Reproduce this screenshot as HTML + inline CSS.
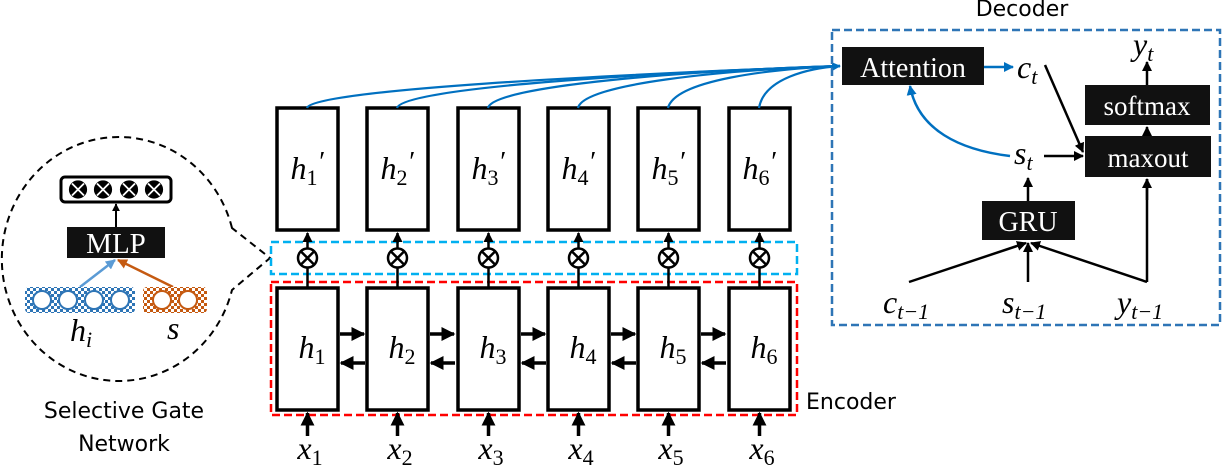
<!DOCTYPE html>
<html><head><meta charset="utf-8"><style>
body{margin:0;background:#fff}
svg{display:block}
.m{font-family:"Liberation Serif",serif;font-style:italic}
.s{font-family:"Liberation Serif",serif;font-style:normal}
.w{font-family:"Liberation Serif",serif;fill:#fff}
.d{font-family:"DejaVu Sans","Liberation Sans",sans-serif}
</style></head><body>
<svg width="1222" height="466" viewBox="0 0 1222 466" xmlns="http://www.w3.org/2000/svg">
<defs>
<marker id="ak" viewBox="0 0 10 10" refX="9" refY="5" markerWidth="4" markerHeight="4" orient="auto"><path d="M0,0L10,5L0,10z" fill="#000"/></marker>
<marker id="ab" viewBox="0 0 10 10" refX="9" refY="5" markerWidth="4" markerHeight="4" orient="auto"><path d="M0,0L10,5L0,10z" fill="#0070c0"/></marker>
<marker id="al" viewBox="0 0 10 10" refX="9" refY="5" markerWidth="4" markerHeight="4" orient="auto"><path d="M0,0L10,5L0,10z" fill="#5b9bd5"/></marker>
<marker id="ao" viewBox="0 0 10 10" refX="9" refY="5" markerWidth="4" markerHeight="4" orient="auto"><path d="M0,0L10,5L0,10z" fill="#c55a11"/></marker>
<pattern id="pb" width="6" height="6" patternUnits="userSpaceOnUse"><rect width="6" height="6" fill="#2e75b6"/><rect width="3" height="3" fill="#fff"/><rect x="3" y="3" width="3" height="3" fill="#fff"/></pattern>
<pattern id="po" width="6" height="6" patternUnits="userSpaceOnUse"><rect width="6" height="6" fill="#c55a11"/><rect width="3" height="3" fill="#fff"/><rect x="3" y="3" width="3" height="3" fill="#fff"/></pattern>
</defs>

<path d="M232,228 A117,122 0 1 0 232,290 L270,258 Z" fill="none" stroke="#000" stroke-width="2" stroke-dasharray="7,5"/>
<rect x="61" y="177" width="110" height="25" rx="4" fill="#fff" stroke="#000" stroke-width="3"/>
<g fill="#000" stroke="#fff" stroke-width="1.8">
<circle cx="78" cy="189.5" r="10"/><path d="M72,183.5L84,195.5M84,183.5L72,195.5"/>
<circle cx="103" cy="189.5" r="10"/><path d="M97,183.5L109,195.5M109,183.5L97,195.5"/>
<circle cx="129" cy="189.5" r="10"/><path d="M123,183.5L135,195.5M135,183.5L123,195.5"/>
<circle cx="154" cy="189.5" r="10"/><path d="M148,183.5L160,195.5M160,183.5L148,195.5"/>
</g>
<line x1="116" y1="227" x2="116" y2="204" stroke="#000" stroke-width="2" marker-end="url(#ak)"/>
<rect x="67" y="227" width="98" height="31" fill="#111"/>
<text x="116" y="253" class="w" style="font-size:29px" text-anchor="middle">MLP</text>
<line x1="80" y1="287" x2="115" y2="260" stroke="#5b9bd5" stroke-width="2.5" marker-end="url(#al)"/>
<line x1="173" y1="287" x2="118" y2="260" stroke="#c55a11" stroke-width="2.5" marker-end="url(#ao)"/>
<rect x="25" y="287" width="110" height="26" rx="4" fill="url(#pb)"/>
<g fill="#fff" stroke="#2e75b6" stroke-width="2"><circle cx="42" cy="300" r="9"/><circle cx="68" cy="300" r="9"/><circle cx="94" cy="300" r="9"/><circle cx="120" cy="300" r="9"/></g>
<rect x="143" y="287" width="64" height="26" rx="4" fill="url(#po)"/>
<g fill="#fff" stroke="#c55a11" stroke-width="2"><circle cx="162" cy="300" r="9"/><circle cx="188" cy="300" r="9"/></g>
<text x="70" y="341" class="m" style="font-size:32px">h<tspan class="m" style="font-size:22px" dy="6">i</tspan></text>
<text x="167" y="339" class="m" style="font-size:32px">s</text>
<text x="124" y="418" class="d" style="font-size:22px" text-anchor="middle">Selective Gate</text>
<text x="124" y="451" class="d" style="font-size:22px" text-anchor="middle">Network</text>

<rect x="271" y="242" width="526" height="32" fill="none" stroke="#00b0f0" stroke-width="2.5" stroke-dasharray="8,4"/>
<rect x="271" y="282" width="526" height="133" fill="none" stroke="#ff0000" stroke-width="2.5" stroke-dasharray="8,4"/>
<text x="806" y="409" class="d" style="font-size:22px">Encoder</text>

<g stroke="#000" stroke-width="3.5" fill="#fff">
<rect x="277" y="108" width="61" height="122"/><rect x="367" y="108" width="61" height="122"/><rect x="458" y="108" width="61" height="122"/><rect x="548" y="108" width="61" height="122"/><rect x="638" y="108" width="61" height="122"/><rect x="729" y="108" width="61" height="122"/>
<rect x="277" y="288" width="61" height="122"/><rect x="367" y="288" width="61" height="122"/><rect x="458" y="288" width="61" height="122"/><rect x="548" y="288" width="61" height="122"/><rect x="638" y="288" width="61" height="122"/><rect x="729" y="288" width="61" height="122"/>
</g>
<g stroke="#000" stroke-width="2.5" fill="none">
<g id="g1">
<line x1="307.5" y1="288" x2="307.5" y2="268"/><circle cx="307.5" cy="258" r="9.5"/><path d="M301,251.5L314,264.5M314,251.5L301,264.5"/><line x1="307.5" y1="248" x2="307.5" y2="233" marker-end="url(#ak)"/>
<line x1="307.5" y1="436" x2="307.5" y2="413" stroke-width="3.5" marker-end="url(#ak)"/>
</g>
<use href="#g1" x="90"/><use href="#g1" x="181"/><use href="#g1" x="271"/><use href="#g1" x="361"/><use href="#g1" x="452"/>
<g id="hz" stroke-width="3.5">
<line x1="340" y1="334" x2="364" y2="334" marker-end="url(#ak)"/>
<line x1="365" y1="363" x2="341" y2="363" marker-end="url(#ak)"/>
</g>
<use href="#hz" x="90"/><use href="#hz" x="181"/><use href="#hz" x="271"/><use href="#hz" x="361"/>
</g>
<g class="m" style="font-size:32px" text-anchor="middle">
<text x="307" y="179">h<tspan class="s" style="font-size:22px" dy="6">1</tspan><tspan style="font-size:28px" dy="-14">′</tspan></text>
<text x="397" y="179">h<tspan class="s" style="font-size:22px" dy="6">2</tspan><tspan style="font-size:28px" dy="-14">′</tspan></text>
<text x="488" y="179">h<tspan class="s" style="font-size:22px" dy="6">3</tspan><tspan style="font-size:28px" dy="-14">′</tspan></text>
<text x="578" y="179">h<tspan class="s" style="font-size:22px" dy="6">4</tspan><tspan style="font-size:28px" dy="-14">′</tspan></text>
<text x="668" y="179">h<tspan class="s" style="font-size:22px" dy="6">5</tspan><tspan style="font-size:28px" dy="-14">′</tspan></text>
<text x="759" y="179">h<tspan class="s" style="font-size:22px" dy="6">6</tspan><tspan style="font-size:28px" dy="-14">′</tspan></text>
<text x="312" y="358">h<tspan class="s" style="font-size:22px" dy="6">1</tspan></text>
<text x="402" y="358">h<tspan class="s" style="font-size:22px" dy="6">2</tspan></text>
<text x="493" y="358">h<tspan class="s" style="font-size:22px" dy="6">3</tspan></text>
<text x="583" y="358">h<tspan class="s" style="font-size:22px" dy="6">4</tspan></text>
<text x="673" y="358">h<tspan class="s" style="font-size:22px" dy="6">5</tspan></text>
<text x="764" y="358">h<tspan class="s" style="font-size:22px" dy="6">6</tspan></text>
<text x="310" y="459">x<tspan class="s" style="font-size:22px" dy="6">1</tspan></text>
<text x="400" y="459">x<tspan class="s" style="font-size:22px" dy="6">2</tspan></text>
<text x="491" y="459">x<tspan class="s" style="font-size:22px" dy="6">3</tspan></text>
<text x="581" y="459">x<tspan class="s" style="font-size:22px" dy="6">4</tspan></text>
<text x="671" y="459">x<tspan class="s" style="font-size:22px" dy="6">5</tspan></text>
<text x="762" y="459">x<tspan class="s" style="font-size:22px" dy="6">6</tspan></text>
</g>

<g stroke="#0070c0" stroke-width="2.2" fill="none">
<path d="M307,108 C312,90 600,75 840,66"/>
<path d="M397,108 C402,88 640,73 840,66"/>
<path d="M488,108 C493,86 680,71 840,66"/>
<path d="M578,108 C583,84 720,70 840,66"/>
<path d="M668,108 C675,80 770,69 840,66"/>
<path d="M759,108 C764,78 810,68 840,66" marker-end="url(#ab)"/>
</g>

<text x="1022" y="16" class="d" style="font-size:22px" text-anchor="middle">Decoder</text>
<rect x="832" y="30" width="388" height="295" fill="none" stroke="#2e75b6" stroke-width="2.5" stroke-dasharray="8,4"/>
<rect x="842" y="47" width="142" height="38" fill="#111"/>
<text x="913" y="77" class="w" style="font-size:28px" text-anchor="middle">Attention</text>
<line x1="984" y1="67" x2="1013" y2="67" stroke="#0070c0" stroke-width="2.5" marker-end="url(#ab)"/>
<text x="1017" y="78" class="m" style="font-size:32px">c<tspan class="m" style="font-size:22px" dy="6">t</tspan></text>
<path d="M1010,156 C960,150 918,130 910,86" stroke="#0070c0" stroke-width="2.5" fill="none" marker-end="url(#ab)"/>
<text x="1014" y="164" class="m" style="font-size:32px">s<tspan class="m" style="font-size:22px" dy="6">t</tspan></text>
<rect x="1085" y="85" width="125" height="40" fill="#111"/>
<text x="1147" y="115" class="w" style="font-size:27px" text-anchor="middle">softmax</text>
<rect x="1085" y="136" width="126" height="41" fill="#111"/>
<text x="1148" y="167" class="w" style="font-size:27px" text-anchor="middle">maxout</text>
<rect x="982" y="201" width="93" height="39" fill="#111"/>
<text x="1028" y="231" class="w" style="font-size:28px" text-anchor="middle">GRU</text>
<text x="1133" y="55" class="m" style="font-size:32px">y<tspan class="m" style="font-size:22px" dy="6">t</tspan></text>
<g stroke="#000" stroke-width="2.5" fill="none">
<line x1="1045" y1="65" x2="1083" y2="152" marker-end="url(#ak)"/>
<line x1="1044" y1="156" x2="1083" y2="156" marker-end="url(#ak)"/>
<line x1="1147" y1="136" x2="1147" y2="127" marker-end="url(#ak)"/>
<line x1="1147" y1="85" x2="1147" y2="62" marker-end="url(#ak)"/>
<line x1="1028" y1="201" x2="1028" y2="178" marker-end="url(#ak)"/>
<line x1="909" y1="282" x2="1026" y2="243" marker-end="url(#ak)"/>
<line x1="1028" y1="282" x2="1028" y2="243" marker-end="url(#ak)"/>
<polyline points="1147,282 1147,179"/>
<line x1="1147" y1="282" x2="1031" y2="243" marker-end="url(#ak)"/>
<line x1="1147" y1="200" x2="1147" y2="179" marker-end="url(#ak)"/>
</g>
<g class="m" style="font-size:32px">
<text x="883" y="313">c<tspan class="m" style="font-size:22px" dy="6">t−1</tspan></text>
<text x="1002" y="313">s<tspan class="m" style="font-size:22px" dy="6">t−1</tspan></text>
<text x="1117" y="313">y<tspan class="m" style="font-size:22px" dy="6">t−1</tspan></text>
</g>
</svg>
</body></html>
